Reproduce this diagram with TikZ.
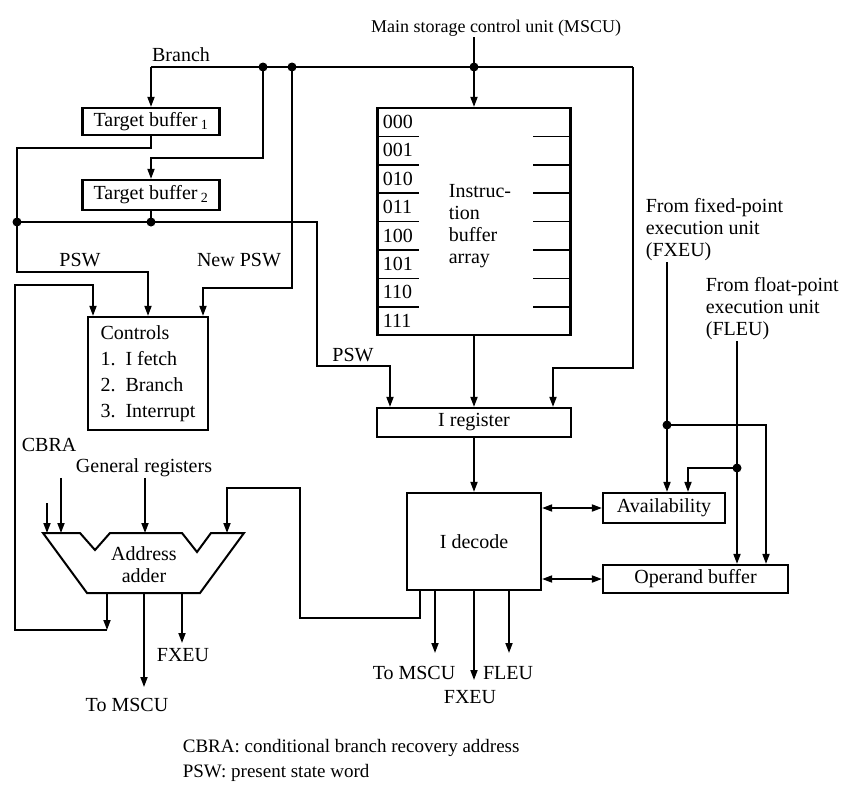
\documentclass[tikz,border=0pt]{standalone}
\usepackage{fontspec}
\setmainfont{Liberation Serif}
\usetikzlibrary{positioning,arrows.meta}

\begin{document}
\begin{tikzpicture}[x=1pt, y=-1pt, line width=1.7pt, >={Triangle[length=10pt,width=7pt]},
  every node/.style={font=\fontsize{20}{22}\selectfont, inner sep=0pt},
  blk/.style={draw, line width=2.2pt}]
\useasboundingbox (0,0) rectangle (848,787);

\coordinate (c1) at (151,67); \coordinate (j1) at (263,67); \coordinate (j2) at (292,67);
\coordinate (j3) at (474,67); \coordinate (c2) at (633,67);
\coordinate (j4) at (151,222); \coordinate (j5) at (17,222);
\coordinate (j6) at (667,425); \coordinate (j7) at (737,468);
\coordinate (cb) at (107,630); \coordinate (cin) at (47,503);

\node[blk, minimum width=137pt, minimum height=27pt] (tb1) at (151,121.5) {Target buffer\,\textsubscript{1}};
\node[blk, minimum width=137pt, minimum height=30pt] (tb2) at (151,195) {Target buffer\,\textsubscript{2}};
\node[blk, minimum width=120pt, minimum height=113pt, align=left, font=\fontsize{20}{26}\selectfont] (ctrl) at (148,373.5) {Controls\\1.\ \ I fetch\\2.\ \ Branch\\3.\ \ Interrupt};
\node[blk, minimum width=193pt, minimum height=227pt] (ibuf) at (474,221.5) {};
\node[blk, minimum width=194pt, minimum height=29pt] (ireg) at (474,422.5) {I register};
\node[blk, minimum width=134pt, minimum height=97pt] (idec) at (474,541.5) {I decode};
\node[blk, minimum width=122pt, minimum height=30pt] (avail) at (664,508) {Availability};
\node[blk, minimum width=185pt, minimum height=28pt] (opbuf) at (695.5,579) {Operand buffer};

\node[anchor=north west, align=left] (iba) at (448,184) {Instruc-\\tion\\buffer\\array};
\foreach \b [count=\i from 0] in {000,001,010,011,100,101,110,111}
  \node[anchor=west] at (382,{122+28.4*\i}) {\b};
\foreach \i in {1,...,7} {
  \draw (377.5,{108+28.4*\i}) -- ++(41,0);
  \draw (533,{108+28.4*\i}) -- (570.5,{108+28.4*\i});
}

% address adder
\draw[line width=2pt] (43,533) -- (80,533) -- (95,550) -- (110,533) -- (182,533) -- (197,552) -- (211,533) -- (244,533) -- (200,593) -- (87,593) -- cycle;
\node[align=center] (adder) at (144,565) {Address\\adder};
\coordinate (ain1) at (47,533); \coordinate (ain2) at (61,533); \coordinate (ain3) at (145,533); \coordinate (ain4) at (227,533);
\coordinate (aout1) at (107,593); \coordinate (aout2) at (144,593); \coordinate (aout3) at (182,593);
\coordinate (d0) at (420,590); \coordinate (d1) at (435,590); \coordinate (d2) at (474,590); \coordinate (d3) at (509,590);

\node[font=\fontsize{18}{21}\selectfont] (mscu) at (496,28) {Main storage control unit (MSCU)};
\node (branch) at (181,55) {Branch};
\node (psw1) at (80,260) {PSW};
\node (npsw) at (239,260) {New PSW};
\node (psw2) at (353,355) {PSW};
\node[anchor=west] (cbra) at (21,445) {CBRA};
\node (genreg) at (144,468) {General registers};
\node (fxeu1) at (183,655) {FXEU};
\node (tomscu1) at (127,705) {To MSCU};
\node (tomscu2) at (414,673) {To MSCU};
\node (fleu) at (508,673) {FLEU};
\node (fxeu2) at (470,697) {FXEU};
\node[anchor=north west, align=left] (fromfx) at (645,198) {From fixed-point\\execution unit\\(FXEU)};
\node[anchor=north west, align=left] (fromfl) at (705,277) {From float-point\\execution unit\\(FLEU)};
\node[anchor=west, font=\fontsize{19}{22}\selectfont] (leg1) at (182,748) {CBRA: conditional branch recovery address};
\node[anchor=west, font=\fontsize{19}{22}\selectfont] (leg2) at (182,773) {PSW: present state word};

\draw (c1) -- (c2); \draw[->] (c1) -- (tb1.north);
\draw (tb1.south) -- ++(0,12) -| (j5);
\draw[->] (j1) -- ++(0,91) -| (tb2.north);
\draw (tb2.south) -- (j4);
\draw[->] (j5) -- (j4) -- (317,222) |- (390,366) -- (390,366 |- ireg.north);
\draw[->] (j5) |- (148,272) -- (ctrl.north);
\draw[->] (j2) |- (203,288) -- (203,288 |- ctrl.north);
\draw[->] (aout1) -- (cb); \draw[->] (cb) -| (15,285) -| (93,285 |- ctrl.north);
\draw (mscu.south -| j3) -- (j3); \draw[->] (j3) -- (ibuf.north);
\draw[->] (c2) |- (553,368) -- (553,368 |- ireg.north);
\draw[->] (ibuf.south) -- (ireg.north);
\draw[->] (ireg.south) -- (idec.north);
\draw[->] (d0) -- (420,618) -| (300,488) -| (ain4);
\draw[->] (cin) -- (ain1); \draw[->] (genreg.south -| ain2) -- (ain2); \draw[->] (genreg.south -| ain3) -- (ain3);
\draw[->] (aout2) -- ++(0,94); \draw[->] (aout3) -- ++(0,50);
\draw[->] (d1) -- ++(0,63); \draw[->] (d2) -- ++(0,90); \draw[->] (d3) -- ++(0,63);
\draw[<->] (avail.west -| idec.east) -- (avail.west);
\draw[<->] (opbuf.west -| idec.east) -- (opbuf.west);
\draw[->] (fromfx.south -| j6) -- (j6) -- (j6 |- avail.north);
\draw[->] (j6) -| (766,0 |- opbuf.north);
\draw[->] (fromfl.south -| j7) -- (j7) -- (j7 |- opbuf.north);
\draw[->] (j7) -| (688,0 |- avail.north);
\foreach \j in {j1,j2,j3,j4,j5,j6,j7} \fill (\j) circle (4.5pt);
\end{tikzpicture}
\end{document}
